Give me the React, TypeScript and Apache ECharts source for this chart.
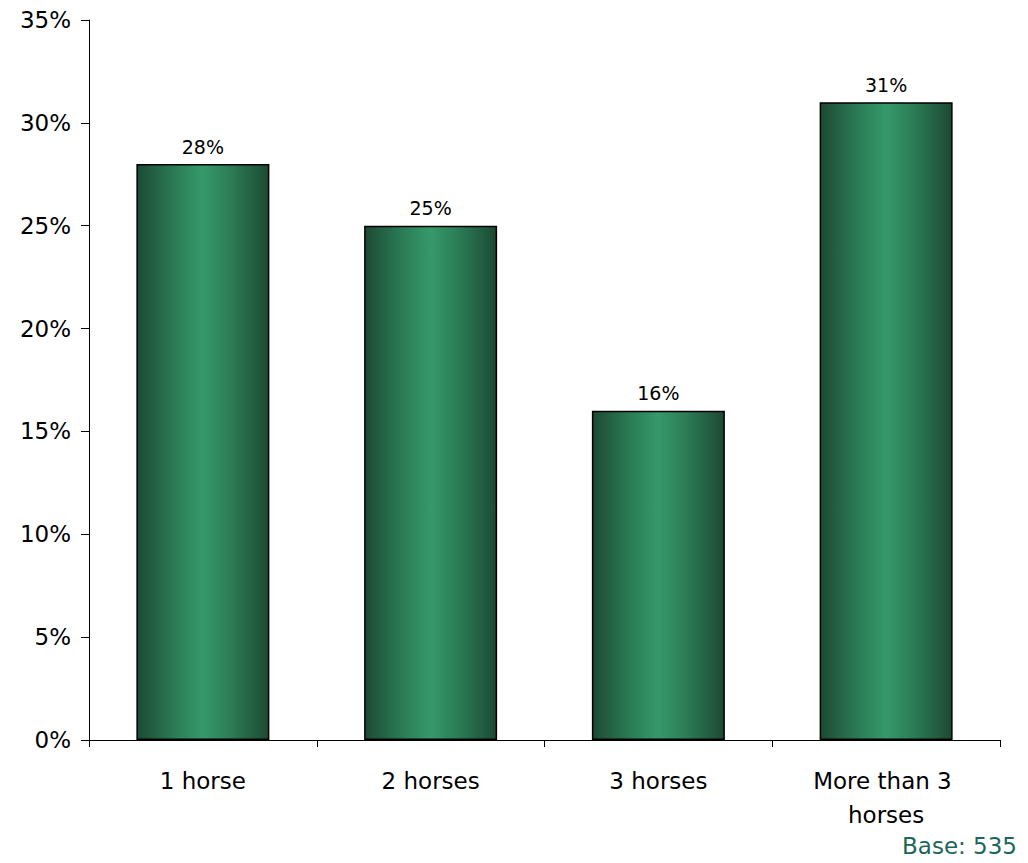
import React, { useEffect, useRef } from "react";
import * as echarts from "echarts";

const categories = ["1 horse", "2 horses", "3 horses", "More than 3 horses"];
const values = [28, 25, 16, 31];
const baseNote = "Base: 535";

const FONT = "Tahoma, 'DejaVu Sans', sans-serif";

export default function App() {
  const ref = useRef<HTMLDivElement>(null);
  useEffect(() => {
    if (!ref.current) return;
    const chart = echarts.init(ref.current, null, { renderer: "svg" });
    const grad = new echarts.graphic.LinearGradient(0, 0, 1, 0, [
      { offset: 0, color: "#1c4a34" },
      { offset: 0.3, color: "#2c7e57" },
      { offset: 0.5, color: "#35996b" },
      { offset: 0.7, color: "#2c7e57" },
      { offset: 1, color: "#1c4a34" },
    ]);
    chart.setOption({
      animation: false,
      backgroundColor: "#ffffff",
      grid: { left: 89, right: 28, top: 20, bottom: 123, containLabel: false },
      xAxis: {
        type: "category",
        data: categories,
        axisLine: { lineStyle: { color: "#000", width: 1 } },
        axisTick: { show: true, length: 7, lineStyle: { color: "#000" } },
        axisLabel: {
          color: "#000",
          fontFamily: FONT,
          fontSize: 23,
          margin: 24,
          lineHeight: 34,
          width: 160,
          overflow: "break",
          interval: 0,
        },
      },
      yAxis: {
        type: "value",
        min: 0,
        max: 35,
        interval: 5,
        splitLine: { show: false },
        axisLine: { show: true, lineStyle: { color: "#000", width: 1 } },
        axisTick: { show: true, length: 8, lineStyle: { color: "#000" } },
        axisLabel: {
          color: "#000",
          fontFamily: FONT,
          fontSize: 23,
          margin: 18,
          formatter: "{value}%",
        },
      },
      series: [
        {
          type: "bar",
          data: values,
          barWidth: 133,
          itemStyle: { color: grad, borderColor: "#000", borderWidth: 1.5 },
          label: {
            show: true,
            position: "top",
            distance: 8,
            color: "#000",
            fontFamily: FONT,
            fontSize: 19,
            formatter: "{c}%",
          },
        },
      ],
      graphic: [
        {
          type: "text",
          right: 11,
          top: 834,
          style: {
            text: baseNote,
            fill: "#1d6659",
            font: `23px ${FONT}`,
          },
        },
      ],
    });
    return () => chart.dispose();
  }, []);
  return <div ref={ref} style={{ width: 1028, height: 863, position: "absolute", left: 0, top: 0 }} />;
}
